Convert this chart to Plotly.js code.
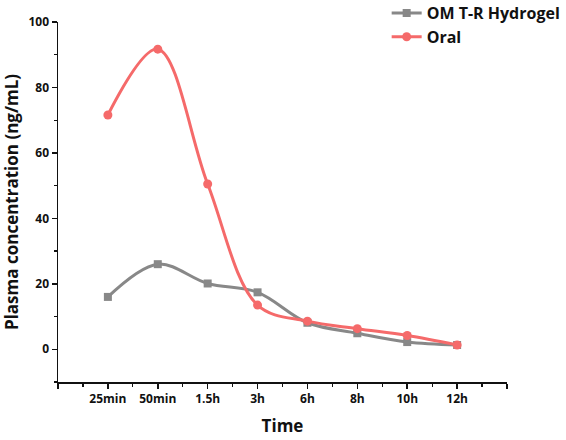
<!DOCTYPE html>
<html>
<head>
<meta charset="utf-8">
<script src="https://cdn.plot.ly/plotly-3.0.1.min.js"></script>
<style>html,body{margin:0;padding:0;background:#fff;}#chart{width:566px;height:440px;}</style>
</head>
<body>
<div id="chart"></div>
<script>
const categories = ["25min", "50min", "1.5h", "3h", "6h", "8h", "10h", "12h"];
const hydrogel = [16.0, 26.0, 20.1, 17.4, 8.1, 4.9, 2.2, 1.3];
const oral = [71.6, 91.7, 50.5, 13.5, 8.6, 6.3, 4.2, 1.3];
const yTicks = [0, 20, 40, 60, 80, 100];

const xIdx = categories.map((c, i) => i);
const fontFam = '"Open Sans", "DejaVu Sans", sans-serif';

const traces = [
  {
    x: xIdx, y: hydrogel, name: "OM T-R Hydrogel", type: "scatter", mode: "lines+markers",
    line: {color: "#888888", width: 3, shape: "spline", smoothing: 1},
    marker: {symbol: "square", size: 8, color: "#888888"}
  },
  {
    x: xIdx, y: oral, name: "Oral", type: "scatter", mode: "lines+markers",
    line: {color: "#f56a6a", width: 3, shape: "spline", smoothing: 1},
    marker: {symbol: "circle", size: 9, color: "#f56a6a"}
  }
];

const majorX = [-1].concat(xIdx, [categories.length]);
const minorX = majorX.slice(0, -1).map(v => v + 0.5);

const layout = {
  width: 566, height: 440,
  margin: {l: 58, r: 59, t: 22, b: 58, autoexpand: false},
  paper_bgcolor: "#fff", plot_bgcolor: "#fff",
  font: {family: fontFam, color: "#111", size: 12},
  showlegend: true,
  legend: {
    x: 0.732, y: 1.072, xanchor: "left", yanchor: "top",
    font: {family: fontFam, size: 16, color: "#111", weight: "bold"},
    bgcolor: "rgba(0,0,0,0)", tracegroupgap: 0, itemwidth: 30
  },
  xaxis: {
    range: [-1, categories.length],
    tickmode: "array", tickvals: majorX,
    ticktext: [""].concat(categories, [""]),
    ticks: "outside", ticklen: 5, tickwidth: 1.5, tickcolor: "#111",
    showline: true, linecolor: "#111", linewidth: 1.5,
    showgrid: false, zeroline: false, tickangle: 0,
    tickfont: {family: fontFam, size: 12, weight: "bold", color: "#111"},
    minor: {tickmode: "array", tickvals: minorX, ticks: "outside", ticklen: 3, tickwidth: 1.2, tickcolor: "#111", showgrid: false},
    title: {text: "Time", font: {family: fontFam, size: 17, weight: "bold", color: "#111"}, standoff: 14}
  },
  yaxis: {
    range: [-10, 100],
    tickmode: "array", tickvals: yTicks,
    ticks: "outside", ticklen: 5, tickwidth: 1.5, tickcolor: "#111",
    showline: true, linecolor: "#111", linewidth: 1.5,
    showgrid: false, zeroline: false,
    tickfont: {family: fontFam, size: 12, weight: "bold", color: "#111"},
    minor: {tickmode: "array", tickvals: [-10, 10, 30, 50, 70, 90], ticks: "outside", ticklen: 3, tickwidth: 1.2, tickcolor: "#111", showgrid: false},
    title: {text: "Plasma concentration (ng/mL)", font: {family: fontFam, size: 17, weight: "bold", color: "#111"}, standoff: 8}
  }
};

Plotly.newPlot("chart", traces, layout, {displayModeBar: false, staticPlot: true});
</script>
</body>
</html>
